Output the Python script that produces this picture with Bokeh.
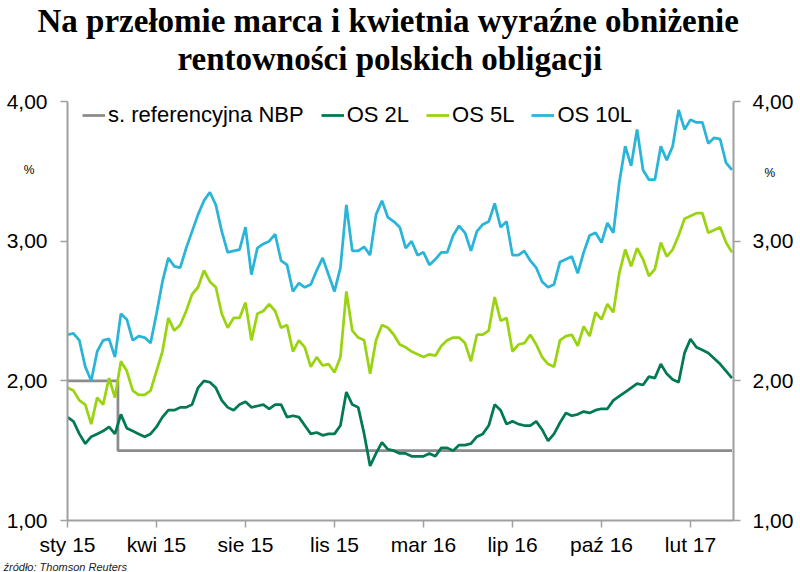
from bokeh.plotting import figure
from bokeh.models import Range1d, LinearAxis, FixedTicker, Legend, LegendItem, Title
from bokeh.embed import file_html
from bokeh.resources import INLINE

# --- data (index = trading-period step) ---
month_labels = ["sty 15", "kwi 15", "sie 15", "lis 15", "mar 16", "lip 16", "paź 16", "lut 17"]
month_pos = [0, 15, 30, 45, 60, 75, 90, 105]

os10 = [2.33, 2.34, 2.29, 2.10, 2.00, 2.21, 2.29, 2.30, 2.17, 2.48,
        2.44, 2.29, 2.32, 2.31, 2.27, 2.48, 2.71, 2.88, 2.82, 2.81,
        2.95, 3.07, 3.19, 3.29, 3.35, 3.26, 3.07, 2.92, 2.93, 2.94,
        3.10, 2.76, 2.95, 2.98, 3.00, 3.05, 2.86, 2.83, 2.64, 2.70,
        2.67, 2.69, 2.79, 2.88, 2.76, 2.64, 2.81, 3.26, 2.93, 2.93,
        2.96, 2.90, 3.19, 3.29, 3.17, 3.14, 3.10, 2.95, 3.00, 2.90,
        2.92, 2.83, 2.87, 2.92, 2.92, 3.04, 3.11, 3.06, 2.93, 3.07,
        3.12, 3.14, 3.27, 3.10, 3.14, 2.90, 2.90, 2.93, 2.86, 2.81,
        2.71, 2.67, 2.69, 2.85, 2.87, 2.89, 2.77, 2.92, 3.04, 3.06,
        2.99, 3.13, 3.06, 3.42, 3.68, 3.54, 3.80, 3.51, 3.44, 3.44,
        3.68, 3.58, 3.68, 3.94, 3.80, 3.87, 3.85, 3.85, 3.70, 3.74,
        3.73, 3.56, 3.51]

os5 = [1.95, 1.93, 1.86, 1.83, 1.69, 1.88, 1.83, 2.02, 1.88, 2.14,
       2.07, 1.93, 1.90, 1.90, 1.93, 2.07, 2.21, 2.45, 2.36, 2.40,
       2.50, 2.62, 2.67, 2.79, 2.71, 2.67, 2.48, 2.38, 2.45, 2.45,
       2.56, 2.29, 2.48, 2.50, 2.55, 2.50, 2.38, 2.40, 2.21, 2.29,
       2.24, 2.10, 2.17, 2.11, 2.12, 2.06, 2.17, 2.64, 2.36, 2.31,
       2.29, 2.05, 2.29, 2.40, 2.38, 2.33, 2.26, 2.24, 2.21, 2.19,
       2.17, 2.19, 2.18, 2.25, 2.29, 2.31, 2.31, 2.27, 2.14, 2.33,
       2.33, 2.36, 2.60, 2.43, 2.45, 2.21, 2.26, 2.27, 2.33, 2.26,
       2.17, 2.12, 2.10, 2.29, 2.32, 2.33, 2.25, 2.39, 2.32, 2.49,
       2.44, 2.55, 2.49, 2.77, 2.94, 2.82, 2.95, 2.87, 2.75, 2.80,
       2.99, 2.89, 2.94, 3.04, 3.16, 3.18, 3.20, 3.20, 3.06, 3.08,
       3.10, 2.99, 2.92]

os2 = [1.74, 1.71, 1.62, 1.55, 1.60, 1.62, 1.64, 1.67, 1.62, 1.76,
       1.66, 1.64, 1.62, 1.60, 1.62, 1.67, 1.74, 1.79, 1.79, 1.81,
       1.81, 1.83, 1.95, 2.00, 1.99, 1.95, 1.86, 1.81, 1.79, 1.83,
       1.85, 1.81, 1.82, 1.83, 1.80, 1.83, 1.83, 1.74, 1.75, 1.74,
       1.68, 1.62, 1.63, 1.61, 1.62, 1.62, 1.68, 1.92, 1.83, 1.81,
       1.62, 1.39, 1.48, 1.56, 1.51, 1.50, 1.48, 1.48, 1.46, 1.46,
       1.46, 1.48, 1.46, 1.52, 1.52, 1.50, 1.54, 1.54, 1.55, 1.60,
       1.62, 1.68, 1.83, 1.79, 1.69, 1.71, 1.69, 1.68, 1.68, 1.71,
       1.65, 1.57, 1.62, 1.70, 1.77, 1.75, 1.76, 1.78, 1.77, 1.79,
       1.80, 1.80, 1.86, 1.89, 1.92, 1.95, 1.98, 1.97, 2.03, 2.02,
       2.12, 2.05, 2.01, 1.99, 2.20, 2.30, 2.24, 2.22, 2.20, 2.16,
       2.12, 2.07, 2.02]

nbp = [2.00] * 9 + [1.50] * 104

idx = list(range(len(os10)))

y_ticks = [1, 2, 3, 4]
y_labels = ["1,00", "2,00", "3,00", "4,00"]
unit_tick_left = [3.51]
unit_tick_right = [3.49]
unit_label = ["%"]

title_1 = "Na przełomie marca i kwietnia wyraźne obniżenie"
title_2 = "rentowności polskich obligacji"
source = "źródło: Thomson Reuters"

# --- figure ---
p = figure(width=800, height=572, x_range=Range1d(0, 112.25), y_range=Range1d(1, 4),
           output_backend="svg", toolbar_location=None, title=None,
           min_border_left=67, min_border_right=67, min_border_top=100, min_border_bottom=52)
p.outline_line_color = None
p.xgrid.visible = False
p.ygrid.visible = False

AX = "#a0a0a0"

def style_axis(ax, size):
    ax.axis_line_color = AX
    ax.axis_line_width = 2
    ax.major_tick_line_color = AX
    ax.major_tick_line_width = 1.5
    ax.major_tick_in = 0
    ax.major_tick_out = 7
    ax.minor_tick_line_color = None
    ax.major_label_text_font = "Liberation Sans"
    ax.major_label_text_font_size = size
    ax.major_label_text_color = "#000000"

style_axis(p.xaxis[0], "21px")
p.xaxis.ticker = FixedTicker(ticks=month_pos)
p.xaxis.major_label_overrides = dict(zip(month_pos, month_labels))
p.xaxis.major_label_standoff = 5

style_axis(p.yaxis[0], "21px")
p.yaxis.ticker = FixedTicker(ticks=y_ticks)
p.yaxis.major_label_overrides = dict(zip(y_ticks, y_labels))
p.yaxis.major_label_standoff = 13

ry = LinearAxis(ticker=FixedTicker(ticks=y_ticks), major_label_overrides=dict(zip(y_ticks, y_labels)))
style_axis(ry, "21px")
ry.major_label_standoff = 12
p.add_layout(ry, "right")

# "%" unit marks: tick labels of label-only axes stacked outside the value axes,
# pulled back inward with a negative standoff
def unit_axis(ticks, standoff):
    ax = LinearAxis(ticker=FixedTicker(ticks=ticks),
                    major_label_overrides=dict(zip(ticks, unit_label)))
    ax.axis_line_color = None
    ax.major_tick_line_color = None
    ax.minor_tick_line_color = None
    ax.major_tick_out = 0
    ax.major_tick_in = 0
    ax.major_label_standoff = standoff
    ax.major_label_text_font = "Liberation Sans"
    ax.major_label_text_font_size = "12px"
    ax.major_label_text_color = "#000000"
    return ax

p.add_layout(unit_axis(unit_tick_left, -31), "left")
p.add_layout(unit_axis(unit_tick_right, -32), "right")

LW = 2.75
r_nbp = p.step(idx, nbp, mode="center", line_color="#8c8c8c", line_width=LW)
r2 = p.line(idx, os2, line_color="#007a4e", line_width=LW)
r5 = p.line(idx, os5, line_color="#9ad410", line_width=LW)
r10 = p.line(idx, os10, line_color="#29b4d8", line_width=LW)

legend = Legend(items=[LegendItem(label="s. referencyjna NBP", renderers=[r_nbp]),
                       LegendItem(label="OS 2L", renderers=[r2]),
                       LegendItem(label="OS 5L", renderers=[r5]),
                       LegendItem(label="OS 10L", renderers=[r10])],
                orientation="horizontal", location=(15, 392))
legend.border_line_alpha = 0
legend.background_fill_alpha = 0
legend.padding = 0
legend.margin = 0
legend.spacing = 17
legend.glyph_width = 23
legend.glyph_height = 20
legend.label_height = 20
legend.label_standoff = 3
legend.label_text_font = "Liberation Sans"
legend.label_text_font_size = "22px"
legend.label_text_color = "#000000"
p.add_layout(legend)

# above panels stack outward from the frame: spacer, line 2, line 1
p.add_layout(Title(text=" ", text_font_size="1px", standoff=22), "above")
p.add_layout(Title(text=title_2, align="left", offset=110,
                   text_font="Liberation Serif", text_font_style="bold",
                   text_font_size="33px", text_color="#000000", standoff=0), "above")
p.add_layout(Title(text=title_1, align="left", offset=-30,
                   text_font="Liberation Serif", text_font_style="bold",
                   text_font_size="33px", text_color="#000000", standoff=0), "above")

p.add_layout(Title(text=source, align="left", offset=-64,
                   text_font="Liberation Sans", text_font_style="italic",
                   text_font_size="11px", text_color="#222222", standoff=0), "below")

open("out.html", "w").write(file_html(p, INLINE))
